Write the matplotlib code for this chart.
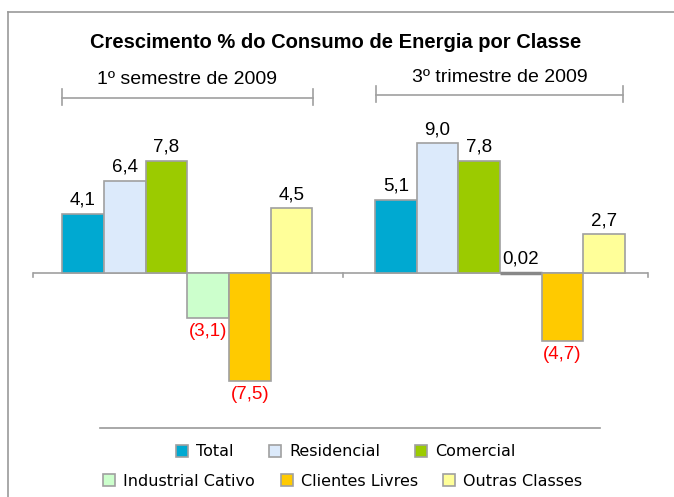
import matplotlib
matplotlib.use('Agg')
import matplotlib.pyplot as plt
from matplotlib.lines import Line2D
import numpy as np

plt.rcParams['font.family'] = ['Liberation Sans', 'DejaVu Sans']

TITLE = 'Crescimento % do Consumo de Energia por Classe'
periods = ['1º semestre de 2009', '3º trimestre de 2009']
classes = ['Total', 'Residencial', 'Comercial',
           'Industrial Cativo', 'Clientes Livres', 'Outras Classes']
sem1_2009 = [4.1, 6.4, 7.8, -3.1, -7.5, 4.5]
tri3_2009 = [5.1, 9.0, 7.8, 0.02, -4.7, 2.7]
labels_sem1 = ['4,1', '6,4', '7,8', '(3,1)', '(7,5)', '4,5']
labels_tri3 = ['5,1', '9,0', '7,8', '0,02', '(4,7)', '2,7']

COLORS = ['#00A9D1', '#DCEAFB', '#9BCB00', '#CCFFCC', '#FFCA00', '#FFFF99']
EDGE = '#A0A0A0'

W, H = 674, 497
fig = plt.figure(figsize=(W / 100, H / 100), dpi=100)


def fx(px):
    return px / W


def fy(py):
    return 1 - py / H


# plot area: x 33..648 px, y 140..400 px
ax = fig.add_axes([fx(33), fy(400), fx(648 - 33), fy(140) - fy(400)])
group_gap = 7.5
series = [sem1_2009, tri3_2009]
series_labels = [labels_sem1, labels_tri3]
handles = []
for g, (vals, labs) in enumerate(zip(series, series_labels)):
    x = g * group_gap + np.arange(len(vals))
    bars = ax.bar(x, vals, width=1.0, color=COLORS, edgecolor=EDGE, linewidth=1.2, zorder=3)
    if g == 0:
        handles = list(bars)
    for b, xi, v, lab in zip(bars, x, vals, labs):
        if abs(v) < 0.1:
            # near-zero bar only shows as its outline
            b.set_edgecolor('#888888')
            b.set_linewidth(2.5)
        if v >= 0:
            ax.text(xi, v + 0.35, lab, ha='center', va='bottom', fontsize=13.5)
        else:
            ax.text(xi, v - 0.35, lab, ha='center', va='top', fontsize=13.5, color='red')

ax.set_xlim(-1.2, 13.55)
ax.set_ylim(-8.82, 9.24)
ax.axhline(0, color=EDGE, linewidth=1.2, zorder=2)
for xt in [-1.2, 6.24, 13.55]:
    ax.plot([xt, xt], [0, -0.3], color=EDGE, linewidth=1.2, clip_on=False)
ax.axis('off')

# title and period brackets
fig.text(fx(336), fy(42), TITLE, ha='center', va='center', fontsize=14.5, fontweight='bold')
brackets = [(62, 313, 98, 80), (376, 623, 95, 77)]
for (x0, x1, yb, yt), name in zip(brackets, periods):
    fig.add_artist(Line2D([fx(x0), fx(x1)], [fy(yb), fy(yb)], color=EDGE, lw=1.2))
    for xe in (x0, x1):
        fig.add_artist(Line2D([fx(xe), fx(xe)], [fy(yb - 9), fy(yb + 7)], color=EDGE, lw=1.2))
    fig.text(fx((x0 + x1) / 2), fy(yt), name, ha='center', va='center', fontsize=14)

# outer frame and legend separator
fig.add_artist(Line2D([fx(8), fx(674)], [fy(12), fy(12)], color='#999999', lw=1.2))
fig.add_artist(Line2D([fx(8), fx(8)], [fy(12), fy(497)], color='#999999', lw=1.2))
fig.add_artist(Line2D([fx(100), fx(600)], [fy(428), fy(428)], color='#999999', lw=1.2))

leg_kw = dict(frameon=False, handlelength=0.75, handleheight=0.75, handletextpad=0.5,
              prop={'family': 'DejaVu Sans', 'size': 11.5}, borderaxespad=0)
leg1 = fig.legend(handles[:3], classes[:3], ncol=3, loc='center',
                  bbox_to_anchor=(fx(346), fy(452)), columnspacing=2.2, **leg_kw)
leg2 = fig.legend(handles[3:], classes[3:], ncol=3, loc='center',
                  bbox_to_anchor=(fx(343), fy(481)), columnspacing=1.6, **leg_kw)

fig.savefig('out.png', dpi=100)
